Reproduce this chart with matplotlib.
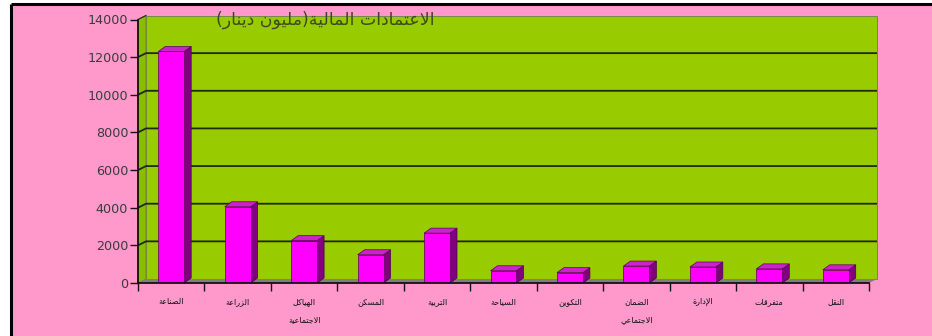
import matplotlib
matplotlib.use("Agg")
import matplotlib.pyplot as plt
from matplotlib.patches import Rectangle, Polygon
from matplotlib.lines import Line2D

# ---- data -------------------------------------------------------------
categories = ["الصناعة", "الزراعة", "الهياكل\nالاجتماعية", "المسكن", "التربية",
              "السياحة", "التكوين", "الضمان\nالاجتماعي", "الإدارة", "متفرقات", "النقل"]
values = [12300, 4050, 2250, 1500, 2650, 650, 550, 900, 850, 750, 700]
y_ticks = [0, 2000, 4000, 6000, 8000, 10000, 12000, 14000]
title = "الاعتمادات المالية(مليون دينار)"

# ---- minimal Arabic shaping (contextual forms + right-to-left order) ---
DUAL_START = {'\u0626': 0xFE89, '\u0628': 0xFE8F, '\u062A': 0xFE95, '\u062B': 0xFE99,
              '\u062C': 0xFE9D, '\u062D': 0xFEA1, '\u062E': 0xFEA5, '\u0633': 0xFEB1,
              '\u0634': 0xFEB5, '\u0635': 0xFEB9, '\u0636': 0xFEBD, '\u0637': 0xFEC1,
              '\u0638': 0xFEC5, '\u0639': 0xFEC9, '\u063A': 0xFECD, '\u0641': 0xFED1,
              '\u0642': 0xFED5, '\u0643': 0xFED9, '\u0644': 0xFEDD, '\u0645': 0xFEE1,
              '\u0646': 0xFEE5, '\u0647': 0xFEE9, '\u064A': 0xFEF1}
RIGHT_START = {'\u0622': 0xFE81, '\u0623': 0xFE83, '\u0624': 0xFE85, '\u0625': 0xFE87,
               '\u0627': 0xFE8D, '\u0629': 0xFE93, '\u062F': 0xFEA9, '\u0630': 0xFEAB,
               '\u0631': 0xFEAD, '\u0632': 0xFEAF, '\u0648': 0xFEED, '\u0649': 0xFEEF}
LAM = '\u0644'
LAM_ALEF = {'\u0622': 0xFEF5, '\u0623': 0xFEF7, '\u0625': 0xFEF9, '\u0627': 0xFEFB}
MIRROR = {'(': ')', ')': '('}


def _shape_line(text):
    units = []
    i = 0
    while i < len(text):
        c = text[i]
        if c == LAM and i + 1 < len(text) and text[i + 1] in LAM_ALEF:
            units.append(('LA', text[i + 1]))
            i += 2
        else:
            units.append(('C', c))
            i += 1

    def joins_next(u):
        return u[0] == 'C' and u[1] in DUAL_START

    def joins_prev(u):
        return u[0] == 'LA' or u[1] in DUAL_START or u[1] in RIGHT_START

    out = []
    for k, u in enumerate(units):
        prev = units[k - 1] if k > 0 else None
        nxt = units[k + 1] if k + 1 < len(units) else None
        cp = prev is not None and joins_next(prev) and joins_prev(u)
        cn = nxt is not None and joins_next(u) and joins_prev(nxt)
        if u[0] == 'LA':
            base = LAM_ALEF[u[1]]
            out.append(chr(base + 1 if cp else base))
            continue
        c = u[1]
        if c in DUAL_START:
            s = DUAL_START[c]
            if cp and cn:
                out.append(chr(s + 3))
            elif cp:
                out.append(chr(s + 1))
            elif cn:
                out.append(chr(s + 2))
            else:
                out.append(chr(s))
        elif c in RIGHT_START:
            s = RIGHT_START[c]
            out.append(chr(s + 1 if cp else s))
        else:
            out.append(c)
    return ''.join(MIRROR.get(ch, ch) for ch in reversed(out))


def shape(text):
    return '\n'.join(_shape_line(line) for line in text.split('\n'))


# ---- colours ----------------------------------------------------------
PINK = '#FF99CC'
GREEN = '#99CC00'
SIDE_GREEN = '#8CBB00'
FLOOR = '#7F7F7F'
GRID = '#1F2A05'
BAR_FRONT = '#FF00FF'
BAR_SIDE = '#800080'
BAR_TOP = '#CC22CC'

W, H, DPI = 932, 336, 100
fig = plt.figure(figsize=(W / DPI, H / DPI), dpi=DPI, facecolor='white')

# pink panel with black top and left rules
fig.patches.append(Rectangle((12 / W, 0), 1 - 12 / W, 1 - 5 / H, transform=fig.transFigure,
                             facecolor=PINK, edgecolor='none', linewidth=0, zorder=-10))
fig.lines.append(Line2D([11 / W, 1], [1 - 4 / H, 1 - 4 / H], transform=fig.transFigure,
                        color='black', lw=2.2, solid_capstyle='butt'))
fig.lines.append(Line2D([11 / W, 11 / W], [0, 1 - 4 / H], transform=fig.transFigure,
                        color='black', lw=2.2, solid_capstyle='butt'))

# axes placement (pixels)
ax_l, ax_r, ax_b, ax_t = 138, 869, 283, 19.5
ax = fig.add_axes([ax_l / W, (H - ax_b) / H, (ax_r - ax_l) / W, (ax_b - ax_t) / H])
ax.set_facecolor('none')
xmin, xmax = -0.5, len(categories) - 0.5
ymin, ymax = 0, 14000
ax.set_xlim(xmin, xmax)
ax.set_ylim(ymin, ymax)

# pixel -> data unit conversion for the depth effect
px_x = (xmax - xmin) / (ax_r - ax_l)
px_y = (ymax - ymin) / (ax_b - ax_t)
wall_dx, wall_dy = 8 * px_x, 4 * px_y

# back wall
ax.add_patch(Rectangle((xmin + wall_dx, ymin + wall_dy), xmax - xmin, ymax - ymin,
                       facecolor=GREEN, edgecolor='#6E7F40', lw=0.6, zorder=0, clip_on=False))
# left side wall
ax.add_patch(Polygon([(xmin, ymin), (xmin, ymax), (xmin + wall_dx, ymax + wall_dy),
                      (xmin + wall_dx, ymin + wall_dy)], closed=True,
                     facecolor=SIDE_GREEN, edgecolor='#6E7F40', lw=0.6, zorder=0.5, clip_on=False))
# gridlines on the back wall, joined to the front axis
for t in y_ticks[1:-1]:
    ax.plot([xmin, xmin + wall_dx, xmax + wall_dx], [t, t + wall_dy, t + wall_dy],
            color=GRID, lw=1.3, zorder=1, clip_on=False, solid_capstyle='butt')
ax.plot([xmin, xmin + wall_dx], [ymax, ymax + wall_dy], color=GRID, lw=0.8, zorder=1, clip_on=False)
# floor
ax.add_patch(Polygon([(xmin, ymin), (xmax, ymin), (xmax + wall_dx, ymin + wall_dy),
                      (xmin + wall_dx, ymin + wall_dy)], closed=True,
                     facecolor=FLOOR, edgecolor='none', zorder=1.5, clip_on=False))

# 3-D bars
bar_w = 0.39
bdx, bdy = 7 * px_x, 5 * px_y
xs = list(range(len(categories)))
bars = ax.bar(xs, values, width=bar_w, color=BAR_FRONT, edgecolor='#5A005A',
              linewidth=0.5, zorder=4)
for rect, v in zip(bars, values):
    x0 = rect.get_x()
    x1 = x0 + rect.get_width()
    ax.add_patch(Polygon([(x1, 0), (x1 + bdx, bdy), (x1 + bdx, v + bdy), (x1, v)],
                         closed=True, facecolor=BAR_SIDE, edgecolor='#4A004A',
                         lw=0.5, zorder=3, clip_on=False))
    ax.add_patch(Polygon([(x0, v), (x1, v), (x1 + bdx, v + bdy), (x0 + bdx, v + bdy)],
                         closed=True, facecolor=BAR_TOP, edgecolor='#5A005A',
                         lw=0.5, zorder=3, clip_on=False))

# axes styling
for side in ('top', 'right'):
    ax.spines[side].set_visible(False)
for side in ('left', 'bottom'):
    ax.spines[side].set_color('#111111')
    ax.spines[side].set_linewidth(1.3)
    ax.spines[side].set_zorder(5)

ax.set_yticks(y_ticks)
ax.set_yticklabels([str(t) for t in y_ticks], fontsize=9.2, color='#3A3A3A',
                   family='DejaVu Sans')
ax.tick_params(axis='y', direction='out', length=6, width=1, color='#111111', pad=1)

ax.set_xticks(xs)
ax.set_xticklabels([shape(c) for c in categories], fontsize=5.8, color='#111111',
                   family='DejaVu Sans', linespacing=2.3)
ax.set_xticks([i - 0.5 for i in range(len(categories) + 1)], minor=True)
ax.tick_params(axis='x', which='major', length=0, pad=10)
ax.tick_params(axis='x', which='minor', direction='out', length=6, width=1, color='#111111')

fig.text(325 / W, 1 - 19.5 / H, shape(title), fontsize=12.5, color='#3F4A1A',
         ha='center', va='center', family='DejaVu Sans', zorder=10)

fig.savefig('out.png', dpi=DPI, facecolor=fig.get_facecolor())
